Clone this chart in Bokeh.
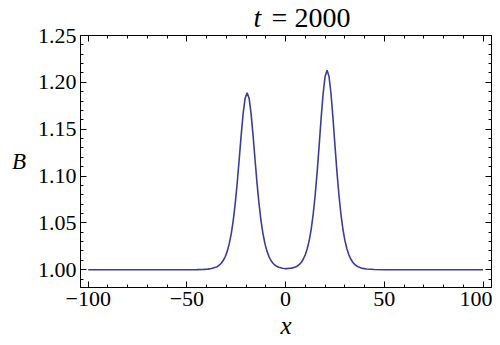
from bokeh.plotting import figure
from bokeh.models import FixedTicker, LinearAxis, Range1d, PrintfTickFormatter, CustomJSTickFormatter, Label
from bokeh.layouts import column
from bokeh.embed import file_html
from bokeh.resources import INLINE

# Data (t = 2000)
x_vals = [-100, -80, -60, -50, -45, -41.5, -39.5, -37.5, -35.5, -34.5, -33.5, -32.5, -31.5,
          -30.5, -29.5, -28.5, -27.5, -26.5, -25.5, -24.5, -23.5, -22.5, -21.5, -20.5, -19.5,
          -18.5, -17.5, -16.5, -15.5, -14.5, -13.5, -12.5, -11.5, -10.5, -9.5, -8.5, -7.5,
          -6.5, -5.5, -4.5, -3.5, -1.5, 0, 1, 3, 5, 6, 7, 8, 9, 10, 11, 12, 13, 14, 15, 16,
          17, 18, 19, 20, 21, 22, 23, 24, 25, 26, 27, 28, 29, 30, 31, 32, 33, 34, 35, 36, 37,
          39, 41, 45, 50, 60, 80, 100]
b_vals = [1.0, 1.0, 1.0, 1.0, 1.0001, 1.0003, 1.0006, 1.0012, 1.0025, 1.0035, 1.0050, 1.0071, 1.0101,
          1.0143, 1.0201, 1.0281, 1.0388, 1.0530, 1.0710, 1.0930, 1.1179, 1.1437, 1.1668, 1.1831, 1.1890,
          1.1831, 1.1668, 1.1437, 1.1179, 1.0930, 1.0710, 1.0530, 1.0388, 1.0281, 1.0201, 1.0143, 1.0101,
          1.0071, 1.0050, 1.0036, 1.0026, 1.0015, 1.0011, 1.0012, 1.0017, 1.0029, 1.0040, 1.0057, 1.0080,
          1.0114, 1.0161, 1.0226, 1.0316, 1.0437, 1.0597, 1.0800, 1.1047,
          1.1327, 1.1618, 1.1878, 1.2062, 1.2128, 1.2062, 1.1878, 1.1618, 1.1327, 1.1047, 1.0800, 1.0597,
          1.0437, 1.0316, 1.0226, 1.0161, 1.0114, 1.0080, 1.0057, 1.0040, 1.0028,
          1.0014, 1.0007, 1.0002, 1.0, 1.0, 1.0, 1.0]

x_ticks = [-100, -50, 0, 50, 100]
x_tick_labels = ["\u2212100", "\u221250", "0", "50", "100"]
x_minor = [-100, -90, -80, -70, -60, -50, -40, -30, -20, -10, 0, 10, 20, 30, 40, 50, 60, 70, 80, 90, 100]
y_ticks = [1.00, 1.05, 1.10, 1.15, 1.20, 1.25]
y_minor = [0.99, 1.00, 1.01, 1.02, 1.03, 1.04, 1.05, 1.06, 1.07, 1.08, 1.09, 1.10, 1.11, 1.12, 1.13,
           1.14, 1.15, 1.16, 1.17, 1.18, 1.19, 1.20, 1.21, 1.22, 1.23, 1.24, 1.25]
title_var = "t"
title_rest = "= 2000"

FONT = "Liberation Serif"
TITLE_FONT = "Times New Roman"
XR = (-103.9, 104.3)

# Header figure carrying the title
h = figure(width=492, height=35, output_backend="svg", toolbar_location=None,
           x_range=Range1d(*XR), y_range=Range1d(0, 35),
           x_axis_location=None, y_axis_location=None,
           min_border_left=80, min_border_right=1, min_border_top=0, min_border_bottom=0)
h.outline_line_color = None
h.grid.visible = False
h.border_fill_color = None
h.background_fill_color = None
h.add_layout(Label(x=-16.3, y=18, text=title_var, text_font=TITLE_FONT, text_font_style="italic",
                   text_font_size="28px", text_align="left", text_baseline="alphabetic",
                   text_color="black"))
h.add_layout(Label(x=-7.1, y=18, text=title_rest, text_font=TITLE_FONT,
                   text_font_size="28px", text_align="left", text_baseline="alphabetic",
                   text_color="black"))

p = figure(width=492, height=319, output_backend="svg", toolbar_location=None,
           x_range=Range1d(*XR), y_range=Range1d(0.981, 1.25),
           min_border_left=80, min_border_right=1, min_border_top=13, min_border_bottom=40,
           margin=(-13, 0, 0, 0))
p.background_fill_color = "white"
p.border_fill_color = None
p.outline_line_color = "black"
p.outline_line_width = 1
p.grid.visible = False

p.line(x_vals, b_vals, line_color="#3D3D99", line_width=1.6)


def style(ax):
    ax.axis_line_color = "black"
    ax.major_tick_line_color = "black"
    ax.minor_tick_line_color = "black"
    ax.major_tick_in = 6
    ax.major_tick_out = 0
    ax.minor_tick_in = 3
    ax.minor_tick_out = 0


xa = p.xaxis[0]
xa.ticker = FixedTicker(ticks=x_ticks, minor_ticks=x_minor)
xa.major_label_overrides = {t: s for t, s in zip(x_ticks, x_tick_labels)}
style(xa)
xa.major_label_text_font = FONT
xa.major_label_text_font_size = "22px"
xa.major_label_text_color = "black"
xa.major_label_standoff = 4
xa.axis_label = "x"
xa.axis_label_text_font = FONT
xa.axis_label_text_font_style = "italic"
xa.axis_label_text_font_size = "25px"
xa.axis_label_text_color = "black"
xa.axis_label_standoff = 3

ya = p.yaxis[0]
ya.ticker = FixedTicker(ticks=y_ticks, minor_ticks=y_minor)
ya.formatter = PrintfTickFormatter(format="%.2f")
style(ya)
ya.major_label_text_font = FONT
ya.major_label_text_font_size = "22px"
ya.major_label_text_color = "black"
ya.major_label_standoff = 4
ya.axis_label = "B"
ya.axis_label_orientation = "horizontal"
ya.axis_label_text_font = FONT
ya.axis_label_text_font_style = "italic"
ya.axis_label_text_font_size = "23px"
ya.axis_label_text_color = "black"
ya.axis_label_standoff = 9

blank = CustomJSTickFormatter(code="return '';")
top = LinearAxis(ticker=FixedTicker(ticks=x_ticks, minor_ticks=x_minor), formatter=blank)
style(top)
top.major_label_standoff = 0
p.add_layout(top, "above")
right = LinearAxis(ticker=FixedTicker(ticks=y_ticks, minor_ticks=y_minor), formatter=blank)
style(right)
right.major_label_standoff = 0
p.add_layout(right, "right")

layout = column(h, p, spacing=0)
open("out.html", "w").write(file_html(layout, INLINE))
